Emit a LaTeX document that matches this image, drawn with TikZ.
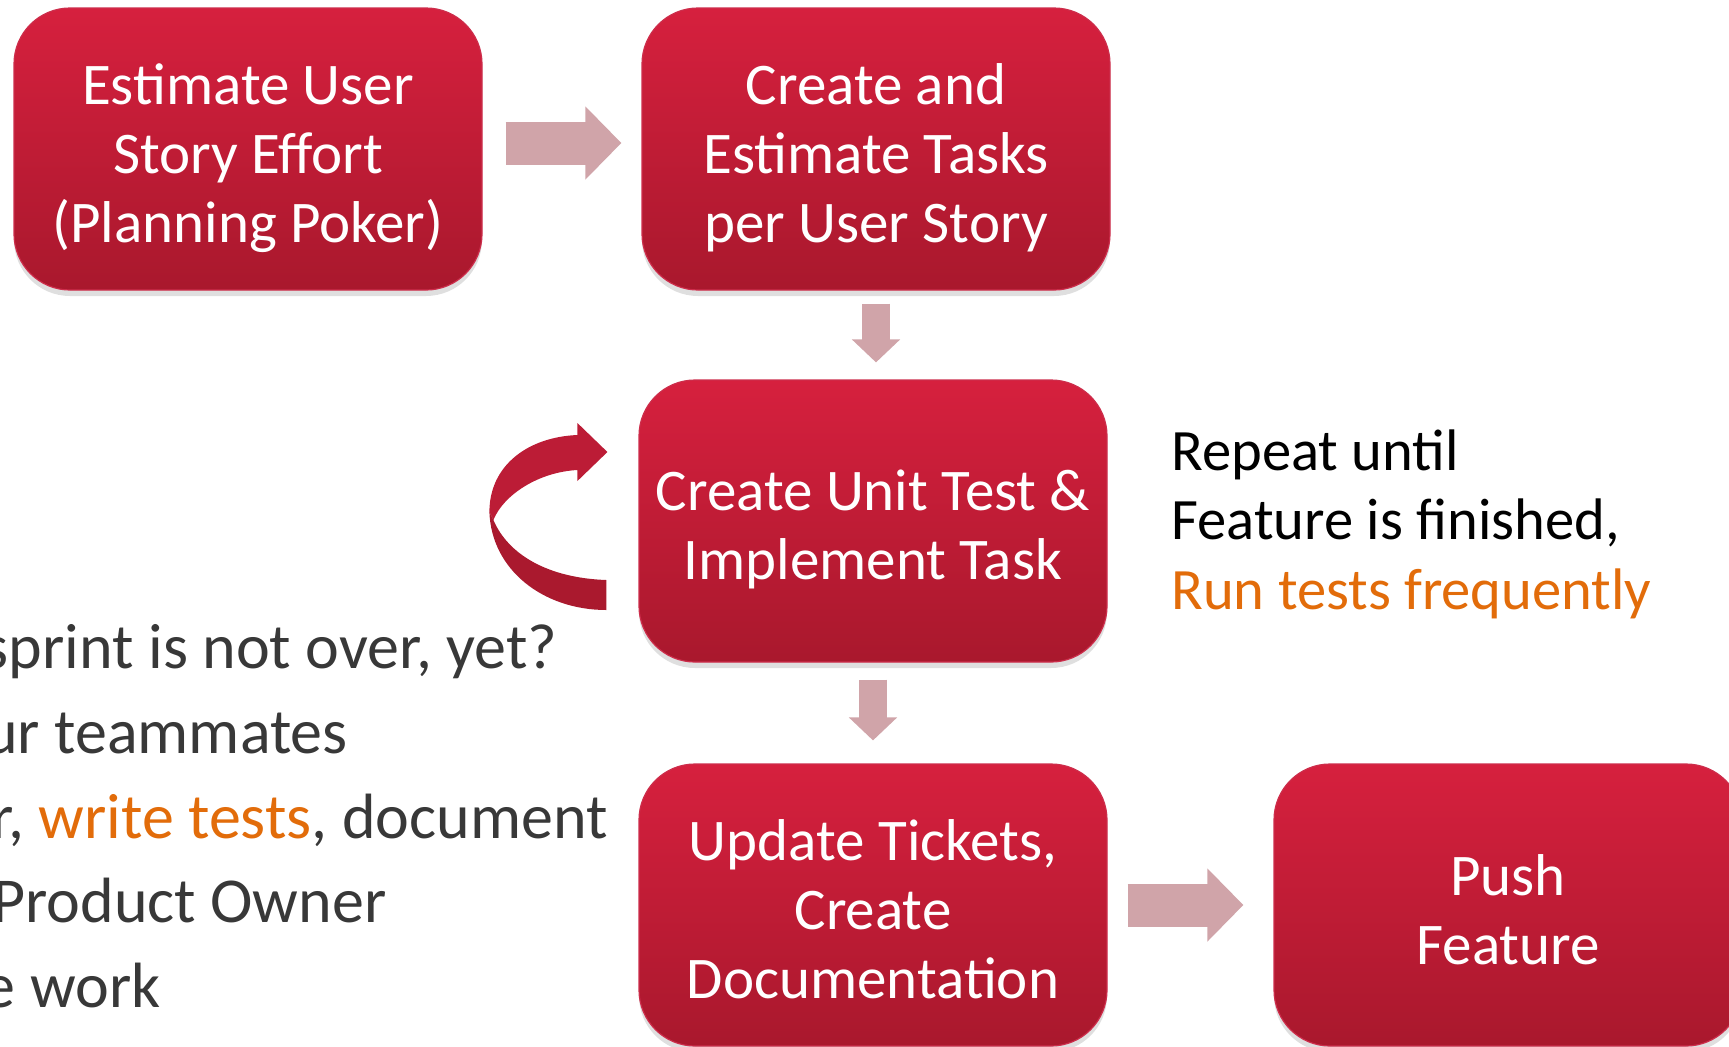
\documentclass[tikz,border=0pt]{standalone}
\usepackage{fontspec}
\setmainfont{Carlito}
\usetikzlibrary{arrows.meta,shadows}

\definecolor{boxtop}{RGB}{214,32,62}
\definecolor{boxbot}{RGB}{169,24,45}
\definecolor{boxline}{RGB}{205,45,75}
\definecolor{arrowpink}{RGB}{208,164,169}
\definecolor{loopfront}{RGB}{188,28,54}
\definecolor{loopback}{RGB}{170,25,46}
\definecolor{listgray}{RGB}{56,56,56}
\definecolor{hilite}{RGB}{226,108,10}

\tikzset{
  stepbox/.style={rectangle, rounded corners=28pt, minimum width=234pt, minimum height=141pt,
    top color=boxtop, bottom color=boxbot, draw=boxline, line width=0.6pt,
    drop shadow={shadow xshift=0pt, shadow yshift=-3pt, opacity=0.25},
    label={[steptext]center:#1}},
  steptext/.style={text=white, align=center, font=\fontsize{29.5}{34.5}\selectfont,
    yshift=-6pt, execute at end node=\rule[-8pt]{0pt}{8pt}},
  fatarrow/.style={draw=arrowpink, line width=21.5pt, -{Triangle[width=35.5pt,length=18pt]}},
  slimarrow/.style={draw=arrowpink, line width=14pt, -{Triangle[width=23.5pt,length=11.5pt]}},
  listtext/.style={anchor=base east, text=listgray, font=\fontsize{32}{38}\selectfont, inner sep=0pt},
  notetext/.style={anchor=base west, font=\fontsize{29.3}{34.5}\selectfont, inner sep=0pt},
}

\begin{document}
\begin{tikzpicture}[x=0.5pt, y=-0.5pt]
\useasboundingbox (0,0) rectangle (1729,1046);

% the five steps
\node[stepbox={Estimate User\\Story Effort\\(Planning Poker)}] (estimate) at (248,149) {};
\node[stepbox={Create and\\Estimate Tasks\\per User Story}] (tasks) at (876,149) {};
\node[stepbox={Create Unit Test \&\\Implement Task}] (unittest) at (873,521) {};
\node[stepbox={Update Tickets,\\Create\\Documentation}] (update) at (873,905) {};
\node[stepbox={Push\\Feature}] (push) at (1508,905) {};

% block arrows between the steps
\draw[fatarrow] ([shift={(11.5pt,3pt)}]estimate.east) -- ([shift={(-10pt,3pt)}]tasks.west);
\draw[slimarrow] ([yshift=-6.5pt]tasks.south) -- ([yshift=8.5pt]tasks.south |- unittest.north);
\draw[slimarrow] ([yshift=-8.5pt]unittest.south) -- ([yshift=11.5pt]unittest.south |- update.north);
\draw[fatarrow] ([xshift=10pt]update.east) -- ([xshift=-15pt]push.west);

% loop back into the unit test step
\begin{scope}[shift={(unittest.west)}]
  \fill[loopfront] (-149,-9) .. controls (-149,-56) and (-110,-84) .. (-61,-86)
    -- (-61,-98) -- (-31,-69) -- (-61,-40) -- (-61,-51)
    .. controls (-100,-49) and (-135,-26) .. (-145,-1) -- cycle;
  \fill[loopback] (-149,-9) .. controls (-147,49) and (-95,89) .. (-32,89)
    -- (-32,59) .. controls (-90,57) and (-130,34) .. (-145,-1) -- cycle;
\end{scope}

% list on the left, cut by the page edge
\node[listtext] (sprint) at (558,668) {sprint is not over, yet?};
\node[listtext] (mates) at (348,753) {ur teammates};
\node[listtext] (tests) at (608,838) {r, \textcolor{hilite}{write tests}, document};
\node[listtext] (owner) at (387,922) {Product Owner};
\node[listtext] (work) at (161,1007) {e work};

% note beside the loop
\node[notetext] (repeat) at (1171,470) {Repeat until};
\node[notetext] (finished) at (1171,539) {Feature is finished,};
\node[notetext, text=hilite] (frequent) at (1171,609) {Run tests frequently};

\end{tikzpicture}
\end{document}
